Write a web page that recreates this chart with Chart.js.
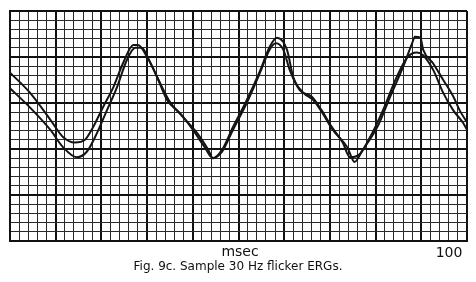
<!DOCTYPE html>
<html>
<head>
<meta charset="utf-8">
<title>Fig. 9c</title>
<script src="https://cdn.jsdelivr.net/npm/chart.js@4.4.1/dist/chart.umd.min.js"></script>
<style>
  html, body { margin: 0; padding: 0; background: #fff; }
  #wrap { position: relative; width: 476px; height: 282px; overflow: hidden; }
  #wrap canvas { position: absolute; left: 0; top: 0; }
  .lbl { position: absolute; font-family: "DejaVu Sans", sans-serif; color: #111; white-space: nowrap; }
  #xTitle { left: 240px; top: 243px; font-size: 14px; transform: translateX(-50%); }
  #xEnd { left: 449px; top: 244px; font-size: 14px; transform: translateX(-50%); }
  #caption { left: 238px; top: 259px; font-size: 12px; transform: translateX(-50%); }
</style>
</head>
<body>
<div id="wrap">
  <canvas id="ergChart" width="476" height="282"></canvas>
  <div class="lbl" id="xTitle">msec</div>
  <div class="lbl" id="xEnd">100</div>
  <div class="lbl" id="caption">Fig. 9c. Sample 30 Hz flicker ERGs.</div>
</div>

<script>
// grid paper: 50 small squares across, 25 down, heavy line every 5
const gridCols = 50;
const gridRows = 25;
const majorEvery = 5;

// trace A (starts higher on the left, notched last peak) - grid units
const traceAx = [0, 2.2, 4.4, 5.8, 7.1, 8.2, 9.1, 10.2, 11.3, 12.4, 13.5, 14.0, 15.0, 16.1, 17.2, 18.6, 20.0, 21.3, 22.2,
  23.2, 24.4, 25.9, 27.4, 28.4, 29.2, 30.3, 31.0, 32.1, 33.2, 34.2, 35.3, 36.9, 37.7,
  38.6, 40.2, 41.6, 43.0, 44.0, 44.3, 44.9, 45.2, 46.3, 47.4, 48.5, 49.2, 50.0];
const traceAy = [18.3, 16.1, 13.2, 11.3, 10.7, 11.0, 12.4, 14.6, 16.7, 19.4, 21.3, 21.3, 20.0, 17.8, 15.3, 13.9, 12.1, 10.2, 9.0,
  9.9, 12.4, 15.3, 18.6, 21.1, 22.1, 20.8, 17.8, 16.1, 15.3, 13.9, 12.1, 10.2, 8.6,
  9.9, 12.4, 15.7, 18.9, 21.5, 22.2, 22.1, 20.8, 19.3, 17.5, 15.7, 14.2, 12.9];

// trace B (starts lower on the left, deeper first trough)
const traceBx = [0, 2.2, 4.4, 5.8, 7.3, 8.4, 9.5, 10.6, 11.7, 12.8, 13.7, 14.4, 15.3, 16.4, 17.5, 18.9, 20.5, 21.7, 22.2,
  23.2, 24.4, 25.9, 27.4, 28.4, 29.1, 29.9, 30.6, 31.7, 33.0, 34.1, 35.2, 36.4, 37.2,
  38.1, 39.4, 40.8, 42.3, 43.5, 44.5, 45.2, 46.3, 47.4, 48.5, 49.6, 50.0];
const traceBy = [16.6, 14.5, 12.1, 10.2, 9.1, 9.7, 11.7, 14.2, 16.7, 19.7, 21.0, 21.0, 19.5, 17.2, 15.1, 13.5, 11.7, 9.9, 9.0,
  9.7, 12.1, 15.0, 18.4, 20.8, 21.5, 20.8, 18.6, 16.4, 15.7, 14.2, 12.4, 10.7, 9.1,
  9.3, 11.3, 14.2, 17.8, 20.0, 20.5, 20.2, 18.6, 16.1, 14.2, 12.8, 12.1];

function toPoints(xs, ys) {
  return xs.map((x, i) => ({ x: x, y: ys[i] }));
}

const ink = '#141414';

// heavy line every 5 squares, thin otherwise
function gridWidth(ctx) {
  return ctx.tick && ctx.tick.value % majorEvery === 0 ? 2 : 1;
}
function gridColor(ctx) {
  return ctx.tick && ctx.tick.value % majorEvery === 0 ? '#111' : '#2a2a2a';
}

// one tick per small square, whatever chart.js would pick
function squareTicks(count) {
  return function (scale) {
    const ticks = [];
    for (let i = 0; i <= count; i++) ticks.push({ value: i });
    scale.ticks = ticks;
  };
}

const traceStyle = {
  borderColor: ink,
  borderWidth: 2,
  pointRadius: 0,
  cubicInterpolationMode: 'monotone',
  fill: false
};

new Chart(document.getElementById('ergChart'), {
  type: 'line',
  data: {
    datasets: [
      Object.assign({ label: 'A', data: toPoints(traceAx, traceAy) }, traceStyle),
      Object.assign({ label: 'B', data: toPoints(traceBx, traceBy) }, traceStyle)
    ]
  },
  options: {
    responsive: false,
    animation: false,
    layout: { padding: { left: 10, right: 9, top: 11, bottom: 41 } },
    plugins: {
      legend: { display: false },
      tooltip: { enabled: false }
    },
    scales: {
      x: {
        type: 'linear',
        min: 0,
        max: gridCols,
        afterBuildTicks: squareTicks(gridCols),
        ticks: { display: false },
        grid: { drawTicks: false, color: gridColor, lineWidth: gridWidth },
        border: { display: true, color: '#111', width: 2 }
      },
      y: {
        type: 'linear',
        min: 0,
        max: gridRows,
        afterBuildTicks: squareTicks(gridRows),
        ticks: { display: false },
        grid: { drawTicks: false, color: gridColor, lineWidth: gridWidth },
        border: { display: true, color: '#111', width: 2 }
      }
    }
  }
});
</script>
</body>
</html>
